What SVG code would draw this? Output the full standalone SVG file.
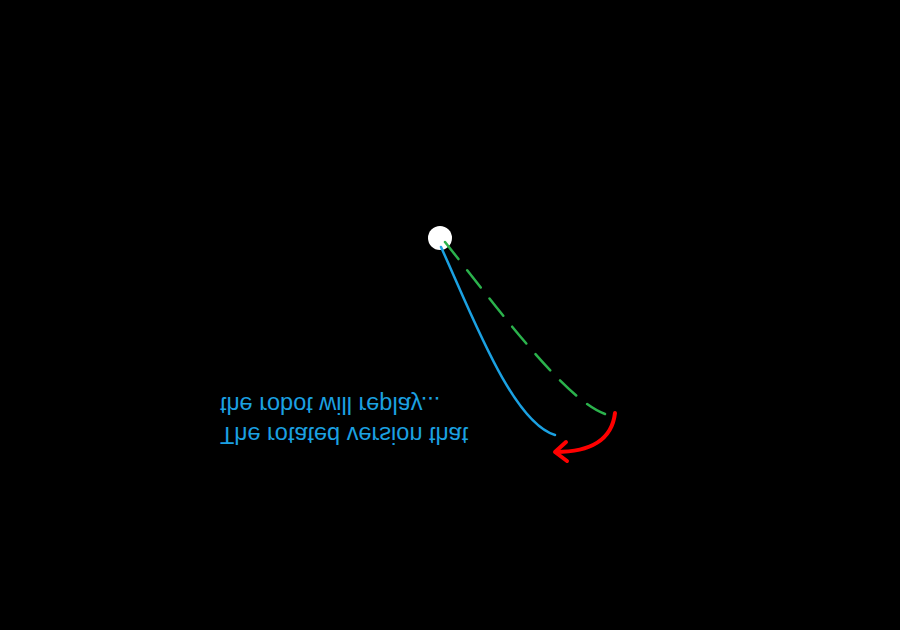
<svg xmlns="http://www.w3.org/2000/svg" width="900" height="630" viewBox="0 0 900 630">
<style>
.lbl{font-family:"Liberation Sans",Arial,sans-serif;font-size:23.5px;fill:#1ba1e2}
</style>
<rect width="900" height="630" fill="#000"/>
<g id="pivot"><circle cx="440" cy="238" r="12" fill="#fff"/></g>
<g id="connectors" fill="none" stroke-linecap="round">
<path d="M441,247 C472,315 512,422 555,435" stroke="#1ba1e2" stroke-width="2.5"/>
<path d="M445,242 C495,305 565,400 605,414" stroke="#2bb24c" stroke-width="2.5" stroke-dasharray="22 14"/>
<path d="M615,413 C612,440 590,452 556,452" stroke="#ff0000" stroke-width="4"/>
<path d="M566,442 L555,452 L567,461" stroke="#ff0000" stroke-width="4" stroke-linejoin="round"/>
</g>
<g id="label" transform="matrix(1 0 0 -1 0 824)">
<text class="lbl" x="220" y="397">The rotated version that</text>
<text class="lbl" x="220" y="427">the robot will replay...</text>
</g>
</svg>
